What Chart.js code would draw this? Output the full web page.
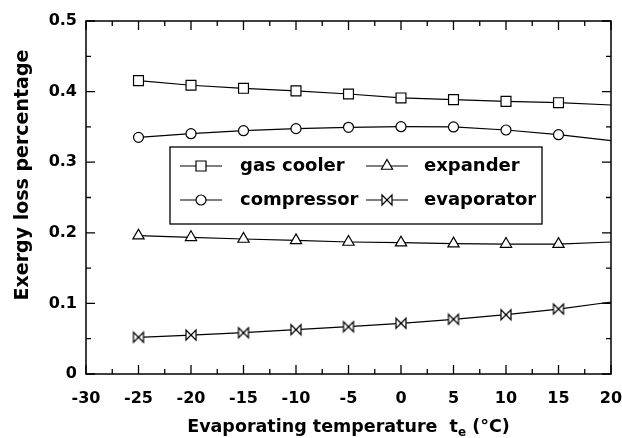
<!DOCTYPE html>
<html>
<head>
<meta charset="utf-8">
<script src="https://cdn.jsdelivr.net/npm/chart.js@4.4.0/dist/chart.umd.min.js"></script>
<style>
  html, body { margin: 0; padding: 0; background: #fff; }
</style>
</head>
<body>
<canvas id="chart" width="622" height="438"></canvas>
<script>
// Data
var temps = [-25, -20, -15, -10, -5, 0, 5, 10, 15, 20];
var gasCooler = [0.4155, 0.409, 0.4047, 0.401, 0.3966, 0.391, 0.3886, 0.3862, 0.3843, 0.381];
var compressor = [0.3352, 0.3404, 0.3446, 0.3475, 0.3494, 0.3503, 0.3499, 0.3456, 0.339, 0.3305];
var expander = [0.1959, 0.1936, 0.1912, 0.1893, 0.187, 0.186, 0.1846, 0.1841, 0.184, 0.187];
var evaporator = [0.052, 0.0552, 0.0585, 0.0628, 0.067, 0.0718, 0.0775, 0.084, 0.092, 0.102];
var seriesNames = ["gas cooler", "compressor", "expander", "evaporator"];
var xTickLabels = ["-30", "-25", "-20", "-15", "-10", "-5", "0", "5", "10", "15", "20"];
var yTickLabels = ["0", "0.1", "0.2", "0.3", "0.4", "0.5"];
var xTitle = ["Evaporating temperature  t", "e", " (\u00B0C)"];
var yTitle = "Exergy loss percentage";

var FONT = "'DejaVu Sans', sans-serif";

// bowtie marker used for the evaporator
function drawBowtie(ctx, x, y, s) {
    ctx.beginPath();
    ctx.moveTo(x - s, y - s);
    ctx.lineTo(x + s, y + s);
    ctx.lineTo(x + s, y - s);
    ctx.lineTo(x - s, y + s);
    ctx.closePath();
    ctx.fillStyle = "#fff";
    ctx.fill();
    ctx.strokeStyle = "#000";
    ctx.lineWidth = 1.2;
    ctx.stroke();
}
var bowtie = document.createElement("canvas");
bowtie.width = 14;
bowtie.height = 14;
drawBowtie(bowtie.getContext("2d"), 7, 7, 5);

function pts(vals) {
    return temps.map(function (t, i) { return { x: t, y: vals[i] }; });
}
// no marker on the last point (x = 20)
function radiusFor(r) {
    return function (c) { return c.dataIndex === temps.length - 1 ? 0 : r; };
}

var styles = ["rect", "circle", "triangle", bowtie];
var radii = [7, 5, 6.5, 6];

var datasets = [gasCooler, compressor, expander, evaporator].map(function (vals, i) {
    return {
        label: seriesNames[i],
        data: pts(vals),
        borderColor: "#000",
        borderWidth: 1.2,
        pointStyle: styles[i],
        pointRadius: radiusFor(radii[i]),
        pointBackgroundColor: "#fff",
        pointBorderColor: "#000",
        pointBorderWidth: 1.2,
        tension: 0,
        clip: false
    };
});

function legendMarker(ctx, i, x, y) {
    ctx.save();
    ctx.strokeStyle = "#000";
    ctx.fillStyle = "#fff";
    ctx.lineWidth = 1.2;
    ctx.beginPath();
    if (i === 0) {
        ctx.rect(x - 5, y - 5, 10, 10);
    } else if (i === 1) {
        ctx.arc(x, y, 5, 0, Math.PI * 2);
    } else if (i === 2) {
        var r = 6.5;
        ctx.moveTo(x, y - r);
        ctx.lineTo(x + r * 0.866, y + r * 0.5);
        ctx.lineTo(x - r * 0.866, y + r * 0.5);
        ctx.closePath();
    } else {
        ctx.restore();
        drawBowtie(ctx, x, y, 5);
        return;
    }
    ctx.fill();
    ctx.stroke();
    ctx.restore();
}

var decor = {
    id: "decor",
    afterDraw: function (chart) {
        var ctx = chart.ctx, a = chart.chartArea;
        var xs = chart.scales.x, ys = chart.scales.y;
        ctx.save();
        // frame
        ctx.strokeStyle = "#000";
        ctx.lineWidth = 1.5;
        ctx.strokeRect(a.left, a.top, a.right - a.left, a.bottom - a.top);

        // inward ticks on all four sides
        ctx.lineWidth = 1.3;
        ctx.beginPath();
        for (var v = -30; v <= 20; v += 2.5) {
            var px = xs.getPixelForValue(v);
            var len = (v % 5 === 0) ? 9 : 5;
            ctx.moveTo(px, a.bottom); ctx.lineTo(px, a.bottom - len);
            ctx.moveTo(px, a.top); ctx.lineTo(px, a.top + len);
        }
        for (var k = 0; k <= 10; k++) {
            var py = ys.getPixelForValue(k * 0.05);
            var l2 = (k % 2 === 0) ? 9 : 5;
            ctx.moveTo(a.left, py); ctx.lineTo(a.left + l2, py);
            ctx.moveTo(a.right, py); ctx.lineTo(a.right - l2, py);
        }
        ctx.stroke();

        // legend box
        ctx.lineWidth = 1.3;
        ctx.strokeRect(170, 147, 372, 77);
        var rows = [166, 200];
        var cols = [{ l0: 180, l1: 222, m: 201, t: 240 }, { l0: 366, l1: 408, m: 387, t: 424 }];
        ctx.font = "bold 18px " + FONT;
        ctx.textBaseline = "middle";
        ctx.textAlign = "left";
        ctx.fillStyle = "#000";
        for (var i = 0; i < 4; i++) {
            var c = cols[i < 2 ? 0 : 1], y = rows[i % 2];
            ctx.lineWidth = 1.2;
            ctx.beginPath();
            ctx.moveTo(c.l0, y); ctx.lineTo(c.l1, y);
            ctx.stroke();
            legendMarker(ctx, i, c.m, y);
            ctx.fillStyle = "#000";
            ctx.fillText(seriesNames[i], c.t, y);
        }

        // x title with subscript
        var big = "bold 17.5px " + FONT, small = "bold 12px " + FONT;
        ctx.font = big;
        var w0 = ctx.measureText(xTitle[0]).width;
        var w2 = ctx.measureText(xTitle[2]).width;
        ctx.font = small;
        var w1 = ctx.measureText(xTitle[1]).width;
        var x0 = (a.left + a.right) / 2 - (w0 + w1 + w2) / 2;
        ctx.textBaseline = "alphabetic";
        ctx.font = big;
        ctx.fillText(xTitle[0], x0, 432);
        ctx.font = small;
        ctx.fillText(xTitle[1], x0 + w0, 436);
        ctx.font = big;
        ctx.fillText(xTitle[2], x0 + w0 + w1, 432);

        // y title
        ctx.translate(23, 175);
        ctx.rotate(-Math.PI / 2);
        ctx.textAlign = "center";
        ctx.textBaseline = "middle";
        ctx.font = "bold 19px " + FONT;
        ctx.fillText(yTitle, 0, 0);
        ctx.restore();
    }
};

new Chart(document.getElementById("chart"), {
    type: "line",
    data: { datasets: datasets },
    plugins: [decor],
    options: {
        responsive: false,
        animation: false,
        layout: { padding: { top: 21, right: 11, left: 0, bottom: 0 } },
        plugins: { legend: { display: false }, tooltip: { enabled: false } },
        scales: {
            x: {
                type: "linear",
                min: -30,
                max: 20,
                grid: { display: false, drawTicks: false },
                border: { display: false },
                ticks: {
                    stepSize: 5,
                    padding: 15,
                    color: "#000",
                    maxRotation: 0,
                    font: { family: FONT, size: 16, weight: "bold" },
                    callback: function (v) { return xTickLabels[Math.round((v + 30) / 5)]; }
                },
                afterFit: function (s) { s.height = 64; s.paddingLeft = 0; s.paddingRight = 0; }
            },
            y: {
                min: 0,
                max: 0.5,
                grid: { display: false, drawTicks: false },
                border: { display: false },
                ticks: {
                    stepSize: 0.1,
                    padding: 9,
                    color: "#000",
                    font: { family: FONT, size: 16, weight: "bold" },
                    callback: function (v) { return yTickLabels[Math.round(v * 10)]; }
                },
                afterFit: function (s) { s.width = 86; s.paddingTop = 0; s.paddingBottom = 0; }
            }
        }
    }
});
</script>
</body>
</html>
